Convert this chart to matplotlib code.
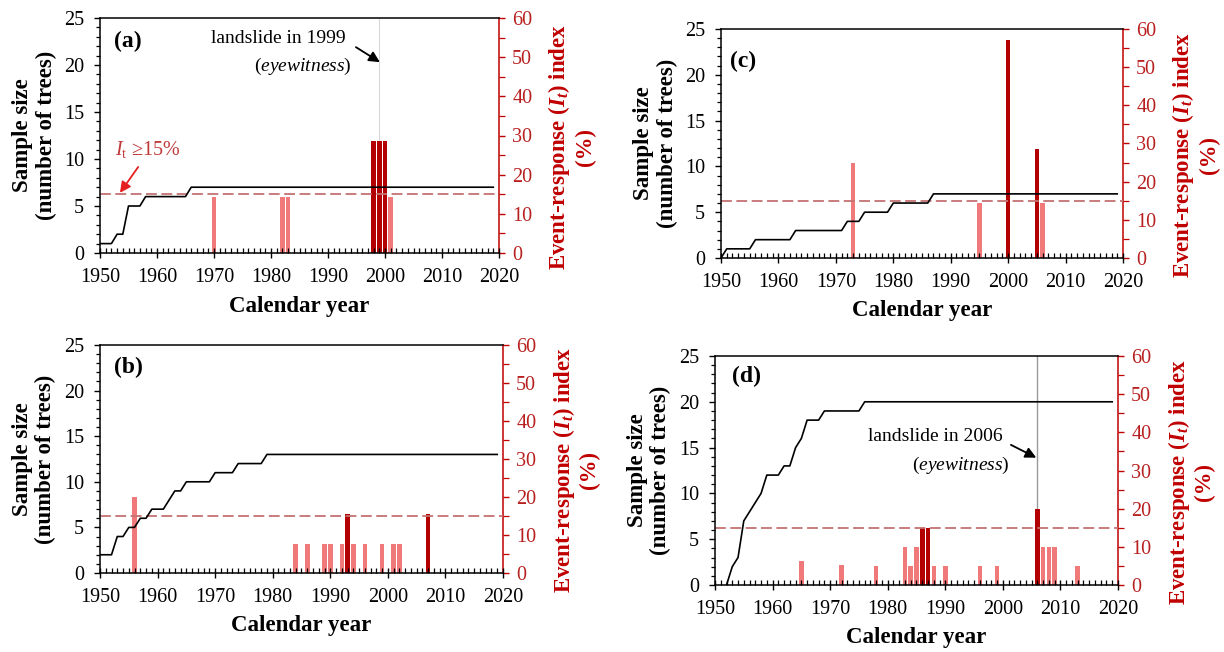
import matplotlib
matplotlib.use("Agg")
import matplotlib.pyplot as plt
from matplotlib.ticker import MultipleLocator

plt.rcParams.update({
    "font.family": "Liberation Serif",
    "mathtext.fontset": "custom",
    "mathtext.rm": "Liberation Serif",
    "mathtext.it": "Liberation Serif:italic",
    "mathtext.bf": "Liberation Serif:bold",
    "mathtext.bfit": "Liberation Serif:italic:bold",
})

# ---- sample size (number of trees): years where the count changes, and counts
years_a = [1950, 1952, 1953, 1954, 1955, 1957, 1958, 1965, 1966, 2019]
trees_a = [1, 1, 2, 2, 5, 5, 6, 6, 7, 7]

years_b = [1950, 1952, 1953, 1954, 1955, 1956, 1957, 1958, 1959, 1961, 1962,
           1963, 1964, 1965, 1969, 1970, 1973, 1974, 1978, 1979, 2019]
trees_b = [2, 2, 4, 4, 5, 5, 6, 6, 7, 7, 8, 9, 9, 10, 10, 11, 11, 12, 12, 13, 13]

years_c = [1950, 1951, 1955, 1956, 1962, 1963, 1971, 1972, 1974, 1975, 1979,
           1980, 1986, 1987, 2019]
trees_c = [0, 1, 1, 2, 2, 3, 3, 4, 4, 5, 5, 6, 6, 7, 7]

years_d = [1952, 1953, 1954, 1955, 1956, 1957, 1958, 1959, 1961, 1962, 1963,
           1964, 1965, 1966, 1968, 1969, 1975, 1976, 2019]
trees_d = [0, 2, 3, 7, 8, 9, 10, 12, 12, 13, 13, 15, 16, 18, 18, 19, 19, 20, 20]

# ---- event-response index It (%)
low_years_a = [1970, 1982, 1983, 2001]
low_index_a = [14.3, 14.3, 14.3, 14.3]
high_years_a = [1998, 1999, 2000]
high_index_a = [28.6, 28.6, 28.6]

low_years_b = [1956, 1984, 1986, 1989, 1990, 1992, 1994, 1996, 1999, 2001, 2002]
low_index_b = [20.0, 7.7, 7.7, 7.7, 7.7, 7.7, 7.7, 7.7, 7.7, 7.7, 7.7]
high_years_b = [1993, 2007]
high_index_b = [15.4, 15.4]

low_years_c = [1973, 1995, 2006]
low_index_c = [25.0, 14.3, 14.3]
high_years_c = [2000, 2005]
high_index_c = [57.1, 28.6]

low_years_d = [1965, 1972, 1978, 1983, 1984, 1985, 1988, 1990, 1996, 1999,
               2007, 2008, 2009, 2013]
low_index_d = [6.3, 5.3, 5.0, 10.0, 5.0, 10.0, 5.0, 5.0, 5.0, 5.0,
               10.0, 10.0, 10.0, 5.0]
high_years_d = [1986, 1987, 2006]
high_index_d = [15.0, 15.0, 20.0]

threshold = 15  # It >= 15 %

DARK = "#b30000"
LIGHT = "#f07a7a"
RED = "#c00000"
DASH = "#c47272"

W, H = 1224, 652
fig = plt.figure(figsize=(W / 100, H / 100), dpi=100, facecolor="white")


def px_rect(left, top, right, bottom):
    return [left / W, 1 - bottom / H, (right - left) / W, (bottom - top) / H]


def panel(rect, letter, letter_pos, years, trees, ly, lv, hy, hv):
    ax = fig.add_axes(rect)
    ax2 = ax.twinx()
    ax.set_zorder(ax2.get_zorder() + 1)
    ax.patch.set_visible(False)

    ax2.bar(ly, lv, width=0.78, color=LIGHT, zorder=2, linewidth=0)
    ax2.bar(hy, hv, width=0.78, color=DARK, zorder=2, linewidth=0)
    ax2.axhline(threshold, color=DASH, lw=1.3, ls=(0, (6, 2.5)), zorder=3)
    ax.plot(years, trees, color="black", lw=1.2, zorder=5)

    ax.set_xlim(1950, 2020)
    ax.set_ylim(0, 25)
    ax2.set_ylim(0, 60)

    ax.xaxis.set_major_locator(MultipleLocator(10))
    ax.xaxis.set_minor_locator(MultipleLocator(1))
    ax.yaxis.set_major_locator(MultipleLocator(5))
    ax.yaxis.set_minor_locator(MultipleLocator(1))
    ax2.yaxis.set_major_locator(MultipleLocator(10))
    ax2.yaxis.set_minor_locator(MultipleLocator(5))

    ax.tick_params(axis="x", which="major", direction="inout", length=7,
                   width=1, labelsize=14.5, pad=7)
    ax.tick_params(axis="x", which="minor", direction="in", length=3.5,
                   width=0.9)
    ax.tick_params(axis="y", which="major", direction="out", length=4.5,
                   width=1, labelsize=14.5, pad=7)
    ax.tick_params(axis="y", which="minor", direction="out", length=3,
                   width=0.9)
    ax2.tick_params(axis="y", which="major", direction="out", length=4.5,
                    width=1, color=RED, labelcolor="#b82020", labelsize=14.5,
                    pad=5)
    ax2.tick_params(axis="y", which="minor", direction="out", length=4.5,
                    width=0.9, color=RED)

    ax.spines["right"].set_visible(False)
    for s in ("left", "top", "bottom"):
        ax2.spines[s].set_visible(False)
        ax.spines[s].set_linewidth(1.1)
    ax2.spines["right"].set_color(RED)
    ax2.spines["right"].set_linewidth(1.1)

    ax.set_xlabel("Calendar year", fontsize=16.5, fontweight="bold")
    ax.xaxis.set_label_coords(0.5, -0.185)
    ax.set_ylabel("Sample size\n(number of trees)", fontsize=16.5,
                  fontweight="bold", linespacing=1.15)
    ax.yaxis.set_label_coords(-0.108, 0.5)
    ax2.set_ylabel("Event-response ($\\mathbfit{I_t}$) index\n(%)",
                   fontsize=16.5, fontweight="bold", color=RED,
                   linespacing=1.15)
    ax2.yaxis.set_label_coords(1.118, 0.45)

    ax.text(letter_pos[0], letter_pos[1], letter, transform=ax.transAxes,
            fontsize=17, fontweight="bold", ha="left", va="center")
    return ax, ax2


ax_a, ax2_a = panel(px_rect(100, 18, 499, 253), "(a)", (0.036, 0.90),
                    years_a, trees_a, low_years_a, low_index_a,
                    high_years_a, high_index_a)
ax_c, ax2_c = panel(px_rect(721, 29, 1123, 258), "(c)", (0.022, 0.86),
                    years_c, trees_c, low_years_c, low_index_c,
                    high_years_c, high_index_c)
ax_b, ax2_b = panel(px_rect(100, 345, 503, 573), "(b)", (0.035, 0.90),
                    years_b, trees_b, low_years_b, low_index_b,
                    high_years_b, high_index_b)
ax_d, ax2_d = panel(px_rect(715, 356, 1118, 585), "(d)", (0.043, 0.91),
                    years_d, trees_d, low_years_d, low_index_d,
                    high_years_d, high_index_d)

# landslide markers
ax2_a.axvline(1999, color="#d9d9d9", lw=0.8, zorder=1)
ax2_d.axvline(2006, color="#9a9a9a", lw=1.0, zorder=1)

arrow = dict(arrowstyle="-|>", color="black", lw=1.3, mutation_scale=16,
             shrinkA=0, shrinkB=0)

ax_a.text(1981.3, 22.8, "landslide in 1999", ha="center", va="center",
          fontsize=14)
ax_a.text(1994.2, 19.8, "($\\mathit{eyewitness}$)", ha="right", va="center",
          fontsize=14)
ax_a.annotate("", xy=(1999.1, 20.3), xytext=(1994.9, 21.9), arrowprops=arrow)

ax_d.text(1988.2, 16.2, "landslide in 2006", ha="center", va="center",
          fontsize=14)
ax_d.text(2001.1, 13.1, "($\\mathit{eyewitness}$)", ha="right", va="center",
          fontsize=14)
ax_d.annotate("", xy=(2005.8, 13.9), xytext=(2001.4, 15.3), arrowprops=arrow)

ax_a.text(1952.6, 10.4, "$I_\\mathrm{t}$ \u226515%", ha="left", va="baseline",
          fontsize=14.5, color="#c03a3a")
ax_a.annotate("", xy=(1953.5, 6.4), xytext=(1956.7, 9.15),
              arrowprops=dict(arrowstyle="-|>", color="#e52020", lw=1.3,
                              mutation_scale=16, shrinkA=0, shrinkB=0))

fig.savefig("out.png", dpi=100, facecolor="white")
